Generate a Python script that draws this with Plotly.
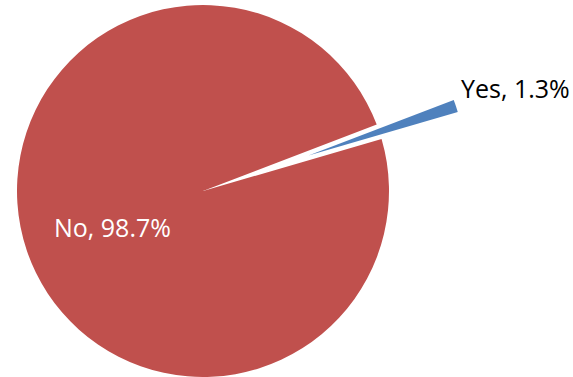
import plotly.graph_objects as go

# Data
labels = ["Yes", "No"]
values = [1.3, 98.7]

# Styles
RED = "#C0504D"
BLUE = "#4F81BD"
CLEAR = "rgba(0,0,0,0)"
W, H = 573, 377

fig = go.Figure()

# Main pie (the "No" slice); the "Yes" slice left empty -> white gap
fig.add_trace(go.Pie(
    labels=labels, values=values, sort=False, direction="clockwise",
    rotation=69.06,
    marker=dict(colors=[CLEAR, RED], line=dict(width=0)),
    textinfo="none", hoverinfo="skip", showlegend=False,
    domain=dict(x=[8 / W, 398 / W], y=[0, 372 / H]),
))

# Exploded "Yes" slice
fig.add_trace(go.Pie(
    labels=labels, values=values, sort=False, direction="clockwise",
    rotation=69.06,
    marker=dict(colors=[BLUE, CLEAR], line=dict(width=0)),
    textinfo="none", hoverinfo="skip", showlegend=False,
    domain=dict(x=[150 / W, 467 / W], y=[1 - 311 / H, 1]),
))

label_pos = {"Yes": (515.5 / W, 1 - 88 / H, "#000000"),
             "No": (112 / W, 1 - 226.5 / H, "#FFFFFF")}
for lab, val in zip(labels, values):
    x, y, col = label_pos[lab]
    fig.add_annotation(
        text=f"{lab}, {val}%", x=x, y=y, xref="paper", yref="paper",
        xanchor="center", yanchor="middle", showarrow=False,
        font=dict(family="Open Sans", size=25, color=col),
    )

fig.update_layout(
    width=W, height=H, margin=dict(l=0, r=0, t=0, b=0),
    paper_bgcolor="white", plot_bgcolor="white",
)

fig.write_html("out.html")
